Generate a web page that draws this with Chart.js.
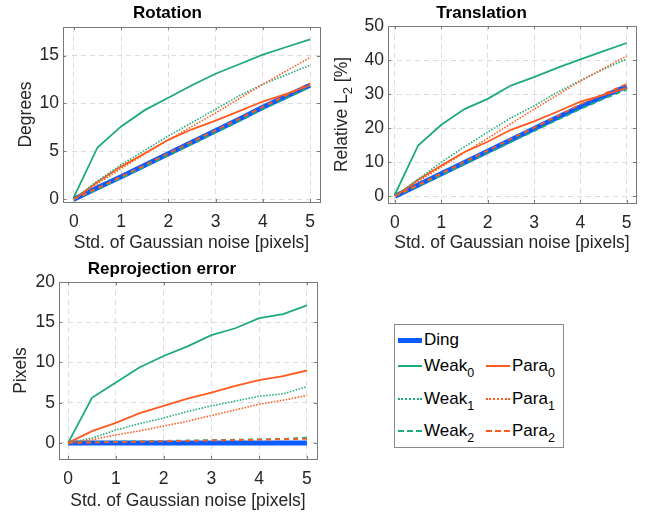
<!DOCTYPE html>
<html>
<head>
<meta charset="utf-8">
<script src="https://cdn.jsdelivr.net/npm/chart.js@4.4.1/dist/chart.umd.min.js"></script>
<style>
  body { margin: 0; background: #fff; width: 649px; height: 512px; position: relative; overflow: hidden; font-family: "Liberation Sans", Arial, sans-serif; }
  canvas { position: absolute; }
  #legend { position: absolute; left: 394px; top: 324px; width: 168px; height: 122px; border: 1px solid #8c8c8c; background: #fff; }
  .item { position: absolute; font-size: 17px; color: #000; line-height: 20px; white-space: nowrap; }
  .item .swatch { position: absolute; left: 0; top: 9px; width: 24px; height: 0; }
  .item .txt { position: absolute; left: 26px; top: 0; }
  .item sub { font-size: 12.5px; vertical-align: -6px; line-height: 0; }
</style>
</head>
<body>
<canvas id="rot" width="325" height="254" style="left:0;top:0"></canvas>
<canvas id="tra" width="324" height="254" style="left:325px;top:0"></canvas>
<canvas id="rep" width="330" height="258" style="left:0;top:254px"></canvas>
<div id="legend"></div>
<script>
// noise levels (x axis)
const noise = [0, 0.5, 1, 1.5, 2, 2.5, 3, 3.5, 4, 4.5, 5];
const xTicks = [0, 1, 2, 3, 4, 5];

// Rotation [degrees]
const rotDing  = [0, 1.2, 2.35, 3.55, 4.75, 5.95, 7.15, 8.35, 9.6, 10.75, 11.9];
const rotWeak0 = [0.2, 5.4, 7.6, 9.3, 10.6, 11.9, 13.1, 14.1, 15.1, 15.9, 16.7];
const rotPara0 = [0, 1.8, 3.4, 4.8, 6.2, 7.3, 8.2, 9.2, 10.2, 11.0, 11.9];
const rotWeak1 = [0, 1.9, 3.6, 5.1, 6.6, 8.0, 9.4, 10.8, 12.0, 13.0, 14.0];
const rotPara1 = [0, 1.6, 3.2, 4.7, 6.2, 7.6, 9.0, 10.5, 12.0, 13.4, 14.8];
const rotWeak2 = [0, 1.0, 2.2, 3.4, 4.55, 5.75, 6.95, 8.15, 9.4, 10.55, 11.7];
const rotPara2 = [0, 1.15, 2.35, 3.55, 4.8, 6.0, 7.2, 8.4, 9.65, 10.85, 12.1];
const rotTicks = [0, 5, 10, 15];

// Translation [relative L2 %]
const traDing  = [0, 3.3, 6.6, 9.9, 13.2, 16.5, 19.8, 23.1, 26.3, 29.3, 32.3];
const traWeak0 = [0.5, 14.9, 21.0, 25.6, 28.6, 32.5, 35.0, 37.7, 40.2, 42.6, 45.0];
const traPara0 = [0, 4.8, 9.0, 13.0, 16.0, 19.5, 22.0, 24.8, 27.8, 29.7, 31.8];
const traWeak1 = [0, 5.0, 10.0, 14.5, 18.8, 23.0, 26.5, 30.5, 34.0, 37.3, 40.3];
const traPara1 = [0, 4.3, 8.6, 12.8, 17.0, 21.3, 25.5, 29.7, 33.8, 37.5, 41.2];
const traWeak2 = [0, 3.0, 6.2, 9.4, 12.6, 15.9, 19.1, 22.4, 25.6, 28.6, 31.3];
const traPara2 = [0, 3.3, 6.7, 10.1, 13.4, 16.8, 20.1, 23.5, 27.0, 30.0, 32.9];
const traTicks = [0, 10, 20, 30, 40, 50];

// Reprojection error [pixels]
const repDing  = [0, 0, 0, 0, 0, 0, 0, 0, 0, 0, 0];
const repWeak0 = [0, 5.6, 7.5, 9.4, 10.8, 12.0, 13.4, 14.25, 15.5, 16.0, 17.1];
const repPara0 = [0, 1.46, 2.5, 3.7, 4.6, 5.5, 6.25, 7.1, 7.8, 8.3, 9.0];
const repWeak1 = [0, 0.6, 1.6, 2.4, 3.1, 3.9, 4.6, 5.2, 5.8, 6.1, 7.0];
const repPara1 = [0, 0.4, 1.0, 1.5, 2.1, 2.7, 3.4, 4.1, 4.8, 5.3, 5.9];
const repWeak2 = [0, 0.1, 0.15, 0.2, 0.25, 0.3, 0.35, 0.4, 0.45, 0.5, 0.65];
const repPara2 = [0, 0.05, 0.1, 0.15, 0.2, 0.25, 0.3, 0.35, 0.4, 0.45, 0.5];
const repTicks = [0, 5, 10, 15, 20];

const names = ['Ding', 'Weak0', 'Para0', 'Weak1', 'Para1', 'Weak2', 'Para2'];

const blue = '#0a5cff', green = '#1fab79', orange = '#ff5a1f';
const styles = {
  Ding:  { color: blue,   width: 5,   dash: [],     order: 10 },
  Weak0: { color: green,  width: 1.8, dash: [],     order: 6 },
  Para0: { color: orange, width: 1.8, dash: [],     order: 5 },
  Weak1: { color: green,  width: 1.6, dash: [1.5, 1.5], order: 4 },
  Para1: { color: orange, width: 1.6, dash: [1.5, 1.5], order: 3 },
  Weak2: { color: green,  width: 1.8, dash: [5, 4], order: 2 },
  Para2: { color: orange, width: 1.8, dash: [5, 4], order: 1 }
};

const font = 'Liberation Sans, Arial, sans-serif';
const labelSize = 17.5;

// box and inward tick marks like MATLAB axes, plus a y title with subscript
const boxPlugin = {
  id: 'box',
  afterDraw(chart) {
    const { ctx, chartArea: a, scales: { x, y } } = chart;
    ctx.save();
    ctx.strokeStyle = '#7a7a7a';
    ctx.lineWidth = 1;
    ctx.strokeRect(Math.round(a.left) + 0.5, Math.round(a.top) + 0.5,
      Math.round(a.right - a.left), Math.round(a.bottom - a.top));
    ctx.beginPath();
    x.ticks.forEach(t => {
      const px = Math.round(x.getPixelForValue(t.value)) + 0.5;
      ctx.moveTo(px, a.bottom); ctx.lineTo(px, a.bottom - 3);
      ctx.moveTo(px, a.top); ctx.lineTo(px, a.top + 3);
    });
    y.ticks.forEach(t => {
      const py = Math.round(y.getPixelForValue(t.value)) + 0.5;
      ctx.moveTo(a.left, py); ctx.lineTo(a.left + 3, py);
      ctx.moveTo(a.right, py); ctx.lineTo(a.right - 3, py);
    });
    ctx.stroke();

    const st = chart.options.subTitle;
    if (st) {
      const big = labelSize + 'px ' + font, small = '13px ' + font;
      ctx.font = big;
      const w1 = ctx.measureText(st.pre).width, w3 = ctx.measureText(st.post).width;
      ctx.font = small;
      const w2 = ctx.measureText(st.sub).width;
      const total = w1 + w2 + w3;
      ctx.translate(st.cx, (a.top + a.bottom) / 2);
      ctx.rotate(-Math.PI / 2);
      ctx.fillStyle = '#262626';
      ctx.textBaseline = 'middle';
      ctx.textAlign = 'left';
      let p = -total / 2;
      ctx.font = big; ctx.fillText(st.pre, p, 0); p += w1;
      ctx.font = small; ctx.fillText(st.sub, p, 6); p += w2;
      ctx.font = big; ctx.fillText(st.post, p, 0);
    }
    ctx.restore();
  }
};

function makeChart(id, cfg) {
  const datasets = names.map((n, k) => ({
    label: n,
    data: noise.map((v, i) => ({ x: v, y: cfg.series[k][i] })),
    borderColor: styles[n].color,
    borderWidth: styles[n].width,
    borderDash: styles[n].dash,
    order: styles[n].order,
    pointRadius: 0,
    tension: 0,
    fill: false
  }));
  return new Chart(document.getElementById(id), {
    type: 'line',
    data: { datasets: datasets },
    plugins: [boxPlugin],
    options: {
      responsive: false,
      animation: false,
      subTitle: cfg.subTitle,
      layout: { padding: cfg.pad },
      plugins: {
        legend: { display: false },
        tooltip: { enabled: false },
        title: {
          display: true,
          text: cfg.title,
          color: '#000',
          font: { family: font, size: 17, weight: 'bold' },
          padding: cfg.titlePad
        }
      },
      scales: {
        x: {
          type: 'linear',
          min: cfg.xMin, max: cfg.xMax,
          afterBuildTicks: s => { s.ticks = xTicks.map(v => ({ value: v })); },
          afterFit: s => { s.height = cfg.xHeight; },
          grid: { color: '#dcdcdc', drawTicks: false },
          border: { display: false, dash: [5, 4] },
          ticks: { color: '#262626', padding: 10, maxRotation: 0, font: { family: font, size: labelSize } },
          title: { display: true, text: 'Std. of Gaussian noise [pixels]', color: '#262626',
                   padding: { top: 0, bottom: cfg.xTitlePad }, font: { family: font, size: labelSize } }
        },
        y: {
          type: 'linear',
          min: cfg.yMin, max: cfg.yMax,
          afterBuildTicks: s => { s.ticks = cfg.yTicks.map(v => ({ value: v })); },
          afterFit: s => { s.width = cfg.yWidth; },
          grid: { color: '#dcdcdc', drawTicks: false },
          border: { display: false, dash: [5, 4] },
          ticks: { color: '#262626', padding: 4, font: { family: font, size: labelSize } },
          title: { display: !cfg.subTitle, text: cfg.yTitle, color: '#262626',
                   padding: 4, font: { family: font, size: labelSize } }
        }
      }
    }
  });
}

makeChart('rot', {
  title: 'Rotation', yTitle: 'Degrees',
  series: [rotDing, rotWeak0, rotPara0, rotWeak1, rotPara1, rotWeak2, rotPara2],
  xMin: -0.23, xMax: 5.21, yMin: -0.3, yMax: 18, yTicks: rotTicks,
  pad: { left: 12, right: 2, top: 0, bottom: 0 },
  titlePad: { top: 3.5, bottom: 3 }, xHeight: 52, xTitlePad: 0, yWidth: 51
});

makeChart('tra', {
  title: 'Translation', yTitle: 'Relative L2 [%]',
  subTitle: { pre: 'Relative L', sub: '2', post: ' [%]', cx: 17 },
  series: [traDing, traWeak0, traPara0, traWeak1, traPara1, traWeak2, traPara2],
  xMin: -0.15, xMax: 5.2, yMin: -2, yMax: 50, yTicks: traTicks,
  pad: { left: 2, right: 13, top: 0, bottom: 0 },
  titlePad: { top: 3, bottom: 2.6 }, xHeight: 51, xTitlePad: 0, yWidth: 61
});

makeChart('rep', {
  title: 'Reprojection error', yTitle: 'Pixels',
  series: [repDing, repWeak0, repPara0, repWeak1, repPara1, repWeak2, repPara2],
  xMin: -0.19, xMax: 5.21, yMin: -2, yMax: 20, yTicks: repTicks,
  pad: { left: 7, right: 13, top: 0, bottom: 0 },
  titlePad: { top: 5, bottom: 2.6 }, xHeight: 53, xTitlePad: 0, yWidth: 52
});

// legend: Ding on first row, then Weak/Para pairs
const legendPos = {
  Ding:  [3, 5],
  Weak0: [3, 31], Para0: [91, 31],
  Weak1: [3, 64], Para1: [91, 64],
  Weak2: [3, 96], Para2: [91, 96]
};
const legend = document.getElementById('legend');
names.forEach(n => {
  const st = styles[n];
  const item = document.createElement('div');
  item.className = 'item';
  item.style.left = legendPos[n][0] + 'px';
  item.style.top = legendPos[n][1] + 'px';
  const sw = document.createElement('div');
  sw.className = 'swatch';
  const bs = st.dash.length === 0 ? 'solid' : (st.dash[0] < 2 ? 'dotted' : 'dashed');
  const w = st.width > 3 ? 5 : 2;
  sw.style.borderTop = w + 'px ' + bs + ' ' + st.color;
  sw.style.top = (10 - w / 2) + 'px';
  item.appendChild(sw);
  const txt = document.createElement('span');
  txt.className = 'txt';
  const m = n.match(/^([A-Za-z]+)(\d?)$/);
  txt.innerHTML = m[1] + (m[2] ? '<sub>' + m[2] + '</sub>' : '');
  item.appendChild(txt);
  legend.appendChild(item);
});
</script>
</body>
</html>
